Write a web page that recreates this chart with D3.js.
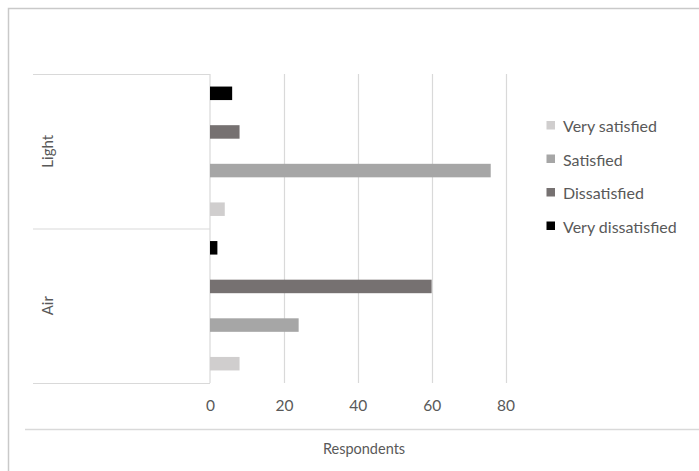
<!DOCTYPE html>
<html>
<head>
<meta charset="utf-8">
<script src="https://cdn.jsdelivr.net/npm/d3@7"></script>
<style>
  html, body { margin: 0; padding: 0; background: #fff; }
  svg { display: block; font-family: Lato, "Open Sans", sans-serif; }
</style>
</head>
<body>
<svg id="chart" width="699" height="471"></svg>
<script>
// Survey categories (top to bottom) and response series
const categories = ["Light", "Air"];
const seriesNames = ["Very satisfied", "Satisfied", "Dissatisfied", "Very dissatisfied"];
const seriesColors = ["#d0cece", "#a6a6a6", "#767171", "#000000"];

// Respondent counts per series, in category order
const verySatisfied = [4, 8];
const satisfied = [76, 24];
const dissatisfied = [8, 60];
const veryDissatisfied = [6, 2];

const tickValues = [0, 20, 40, 60, 80];
const axisTitle = "Respondents";

const seriesValues = [verySatisfied, satisfied, dissatisfied, veryDissatisfied];
const rows = [];
categories.forEach((c, ci) => {
  seriesNames.forEach((s, si) => {
    rows.push({ category: c, series: s, value: seriesValues[si][ci], color: seriesColors[si] });
  });
});

const svg = d3.select("#chart");
const textColor = "#595959";
const lineColor = "#d9d9d9";

// chart frame
svg.append("rect")
  .attr("x", 8.5).attr("y", 8.5)
  .attr("width", 720).attr("height", 490)
  .attr("fill", "none")
  .attr("stroke", "#c9c9c9")
  .attr("stroke-width", 1.5);

const x = d3.scaleLinear().domain([0, 80]).range([210, 505.5]);
const y = d3.scaleBand().domain(categories).range([74, 383]).padding(0);
// within a category, "Very satisfied" sits at the bottom
const yInner = d3.scaleBand()
  .domain(seriesNames.slice().reverse())
  .range([0, y.bandwidth()])
  .paddingInner(0.65)
  .paddingOuter(0.325);

// vertical gridlines
svg.append("g")
  .selectAll("line")
  .data(tickValues.slice(1))
  .join("line")
  .attr("x1", d => Math.round(x(d)) + 0.5)
  .attr("x2", d => Math.round(x(d)) + 0.5)
  .attr("y1", 74).attr("y2", 383)
  .attr("stroke", lineColor)
  .attr("stroke-width", 1.2);

// category axis: vertical line plus boundaries between categories
const catAxis = svg.append("g");
catAxis.append("line")
  .attr("x1", x(0)).attr("x2", x(0))
  .attr("y1", 74).attr("y2", 383)
  .attr("stroke", lineColor).attr("stroke-width", 1.2);
const bounds = categories.map(c => y(c)).concat([y(categories[categories.length - 1]) + y.bandwidth()]);
catAxis.selectAll("line.sep")
  .data(bounds)
  .join("line")
  .attr("class", "sep")
  .attr("x1", 33).attr("x2", x(0))
  .attr("y1", d => d + 0.5).attr("y2", d => d + 0.5)
  .attr("stroke", lineColor).attr("stroke-width", 1.2);
catAxis.selectAll("text")
  .data(categories)
  .join("text")
  .attr("transform", d => `translate(46.5,${y(d) + y.bandwidth() / 2}) rotate(-90)`)
  .attr("text-anchor", "middle")
  .attr("dominant-baseline", "central")
  .attr("fill", textColor)
  .attr("font-size", 15)
  .text(d => d);

// bars
svg.append("g")
  .selectAll("rect")
  .data(rows)
  .join("rect")
  .attr("x", x(0))
  .attr("y", d => y(d.category) + yInner(d.series))
  .attr("width", d => x(d.value) - x(0))
  .attr("height", yInner.bandwidth())
  .attr("fill", d => d.color);

// value axis labels
const xAxis = d3.axisBottom(x).tickValues(tickValues).tickSize(0).tickPadding(0);
const xg = svg.append("g").attr("transform", "translate(0,400)").call(xAxis);
xg.select(".domain").remove();
xg.selectAll("text")
  .attr("fill", textColor)
  .attr("font-size", 15.5)
  .attr("font-family", "Lato, sans-serif")
  .attr("dy", "0.72em")
  .attr("y", 0);

// separator line above the axis title
svg.append("line")
  .attr("x1", 25).attr("x2", 699)
  .attr("y1", 429.5).attr("y2", 429.5)
  .attr("stroke", lineColor).attr("stroke-width", 1.5);

svg.append("text")
  .attr("x", 364).attr("y", 448)
  .attr("text-anchor", "middle")
  .attr("dominant-baseline", "central")
  .attr("fill", textColor)
  .attr("font-size", 14.5)
  .text(axisTitle);

// legend
const legend = svg.append("g").attr("transform", "translate(546.5,125.5)");
const item = legend.selectAll("g")
  .data(seriesNames)
  .join("g")
  .attr("transform", (d, i) => `translate(0,${i * 33.5})`);
item.append("rect")
  .attr("x", 0).attr("y", -4.5)
  .attr("width", 8.5).attr("height", 8.5)
  .attr("fill", (d, i) => seriesColors[i]);
item.append("text")
  .attr("x", 16.5).attr("y", 0)
  .attr("dominant-baseline", "central")
  .attr("fill", textColor)
  .attr("font-size", 16)
  .text(d => d);
</script>
</body>
</html>
